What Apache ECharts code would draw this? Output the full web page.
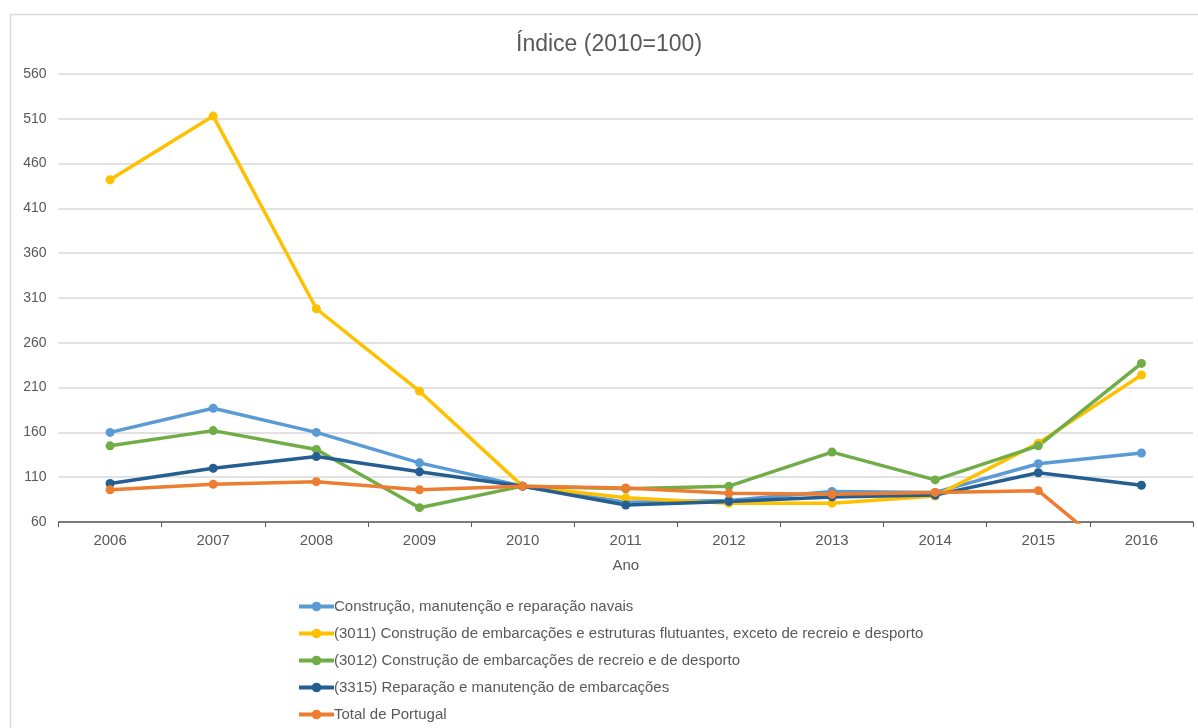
<!DOCTYPE html>
<html>
<head>
<meta charset="utf-8">
<script src="https://cdn.jsdelivr.net/npm/echarts@6/dist/echarts.min.js"></script>
<style>
  html, body { margin: 0; padding: 0; background: #fff; }
  #chart { width: 1198px; height: 728px; }
</style>
</head>
<body>
<div id="chart"></div>
<script>
// anos e índices (2010=100)
const years = ["2006", "2007", "2008", "2009", "2010", "2011", "2012", "2013", "2014", "2015", "2016"];
const navais = [160, 187, 160, 126, 100, 82, 84, 94, 93, 125, 137];
const cae3011 = [442, 513, 298, 206, 100, 87, 81, 81, 89, 148, 224];
const cae3012 = [145, 162, 141, 76, 100, 97, 100, 138, 107, 145, 237];
const cae3315 = [103, 120, 133, 116, 100, 79, 83, 88, 90, 115, 101];
const portugal = [96, 102, 105, 96, 100, 98, 92, 91, 93, 95, 0];

const names = [
  "Construção, manutenção e reparação navais",
  "(3011) Construção de embarcações e estruturas flutuantes, exceto de recreio e desporto",
  "(3012) Construção de embarcações de recreio e de desporto",
  "(3315) Reparação e manutenção de embarcações",
  "Total de Portugal",
];
const colors = ["#5B9BD5", "#FFC000", "#70AD47", "#255E91", "#ED7D31"];
const values = [navais, cae3011, cae3012, cae3315, portugal];

const font = "Liberation Sans";
const chart = echarts.init(document.getElementById("chart"));

const series = values.map((data, i) => ({
  name: names[i],
  type: "line",
  data: data,
  clip: true,
  symbol: "circle",
  symbolSize: 9,
  lineStyle: { width: 3.5, color: colors[i] },
  itemStyle: { color: colors[i] },
  emphasis: { disabled: true },
}));

chart.setOption({
  animation: false,
  color: colors,
  textStyle: { fontFamily: font },
  graphic: [
    {
      type: "rect",
      shape: { x: 10.5, y: 14.5, width: 1300, height: 800 },
      style: { fill: "none", stroke: "#d9d9d9", lineWidth: 1.5 },
      silent: true,
    },
  ],
  title: {
    text: "Índice (2010=100)",
    left: 511,
    top: 28,
    textStyle: { fontFamily: font, fontSize: 23, fontWeight: "normal", color: "#595959" },
  },
  legend: {
    orient: "vertical",
    left: 297,
    top: 598,
    padding: 0,
    itemWidth: 35,
    itemHeight: 12,
    itemGap: 10,
    lineStyle: { width: 4 },
    textStyle: { fontFamily: font, fontSize: 15, lineHeight: 17, color: "#595959", padding: [0, 0, 0, -5] },
    data: names,
  },
  grid: { left: 58.5, right: 5, top: 74, bottom: 206, containLabel: false },
  xAxis: {
    type: "category",
    data: years,
    boundaryGap: true,
    name: "Ano",
    nameLocation: "middle",
    nameGap: 36,
    nameTextStyle: { fontFamily: font, fontSize: 15, color: "#595959" },
    axisLine: { lineStyle: { color: "#595959", width: 1.5 } },
    axisTick: { show: true, alignWithLabel: false, length: 5, lineStyle: { color: "#595959" } },
    axisLabel: { fontFamily: font, fontSize: 15, color: "#595959", margin: 11 },
  },
  yAxis: {
    type: "value",
    min: 60,
    max: 560,
    interval: 50,
    axisLine: { show: false },
    axisTick: { show: false },
    axisLabel: { fontFamily: font, fontSize: 14, color: "#595959", margin: 12 },
    splitLine: { lineStyle: { color: "#d9d9d9", width: 1.5 } },
  },
  series: series,
});
</script>
</body>
</html>
